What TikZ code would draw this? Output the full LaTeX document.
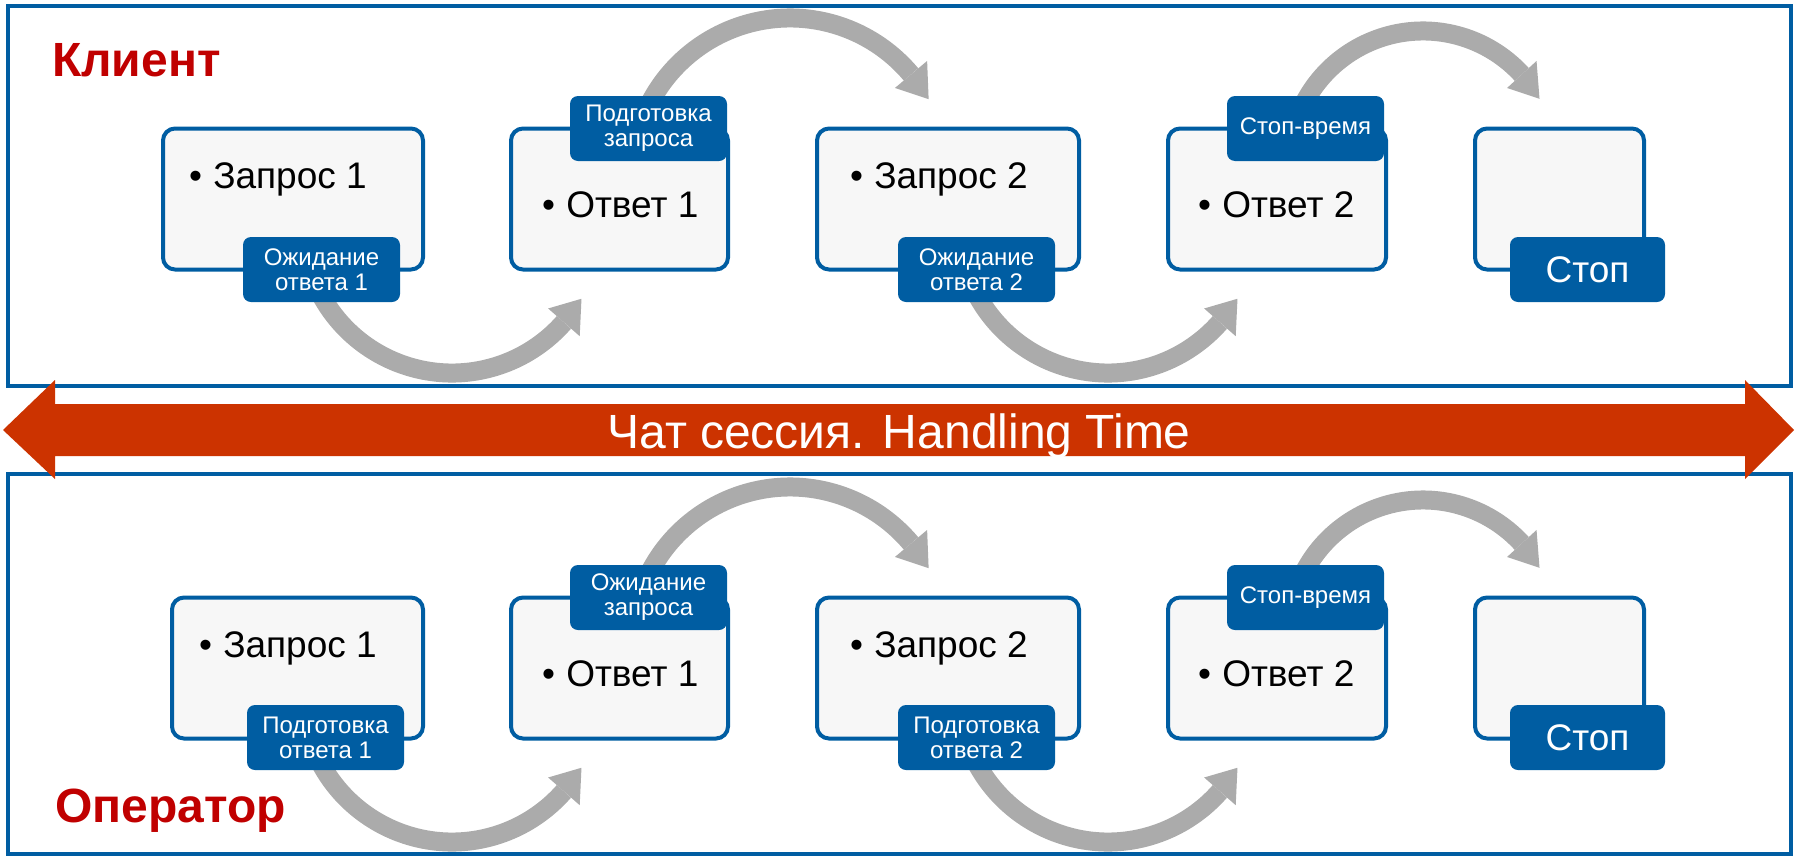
\documentclass[tikz,border=0pt]{standalone}
\usepackage{fontspec}
\setmainfont{Liberation Sans}
\usetikzlibrary{calc}
\definecolor{blu}{RGB}{0,93,162}
\definecolor{boxfill}{RGB}{247,247,247}
\definecolor{arcgray}{RGB}{171,171,171}
\definecolor{chatred}{RGB}{204,51,0}
\definecolor{titlered}{RGB}{192,0,0}
\begin{document}
\begin{tikzpicture}[x=1pt,y=-1pt,
  panel/.style={draw=blu, line width=4pt, inner sep=0pt, minimum width=1783pt, minimum height=380pt},
  stepbox/.style={draw=blu, line width=4pt, fill=boxfill, rounded corners=12pt, minimum height=141pt, inner sep=0pt},
  lbl/.style={fill=blu, rounded corners=8pt, minimum height=65pt, minimum width=157pt, inner sep=0pt, text=white, align=center, font=\fontsize{24}{25}\selectfont},
  bodytext/.style={anchor=base west, inner sep=0pt, font=\fontsize{37}{40}\selectfont},
  title/.style={anchor=base west, inner sep=0pt, text=titlered, font=\fontsize{48}{56}\selectfont\bfseries},
  flow/.style={draw=arcgray, line width=19pt},
  flowhead/.style={fill=arcgray},
]
\useasboundingbox (0,0) rectangle (1796,860);

% panels
\node[panel] (ptop) at (899.5,196) {};
\node[panel] (pbot) at (899.5,663.5) {};

% titles
\node[title] (client) at (52,76) {Клиент};
\node[title] (oper) at (55,822) {Оператор};

% ---------- top row boxes
\node[stepbox, minimum width=260pt] (ta1) at (293,199) {};
\node[stepbox, minimum width=217pt] (tb1) at (619.5,199) {};
\node[stepbox, minimum width=262pt] (ta2) at (948,199) {};
\node[stepbox, minimum width=218pt] (tb2) at (1277,199) {};
\node[stepbox, minimum width=169pt] (tc) at (1559.5,199) {};

\node[bodytext] (ta1t) at (189,188) {•\hspace{0.3em}Запрос 1};
\node[bodytext] (tb1t) at (542,217) {•\hspace{0.3em}Ответ 1};
\node[bodytext] (ta2t) at (850,188) {•\hspace{0.3em}Запрос 2};
\node[bodytext] (tb2t) at (1198,217) {•\hspace{0.3em}Ответ 2};

% ---------- bottom row boxes
\node[stepbox, minimum width=251pt] (ba1) at (297.5,668) {};
\node[stepbox, minimum width=217pt] (bb1) at (619.5,668) {};
\node[stepbox, minimum width=262pt] (ba2) at (948,668) {};
\node[stepbox, minimum width=218pt] (bb2) at (1277,668) {};
\node[stepbox, minimum width=169pt] (bc) at (1559.5,668) {};

\node[bodytext] (ba1t) at (199,657) {•\hspace{0.3em}Запрос 1};
\node[bodytext] (bb1t) at (542,686) {•\hspace{0.3em}Ответ 1};
\node[bodytext] (ba2t) at (850,657) {•\hspace{0.3em}Запрос 2};
\node[bodytext] (bb2t) at (1198,686) {•\hspace{0.3em}Ответ 2};

% ---------- gray curved arrows (centres of the arcs)
\coordinate (c1) at (452,224);
\coordinate (c2) at (790,176);
\coordinate (c3) at (1108,224);
\coordinate (c4) at (1423,165);
\coordinate (d1) at (452,693);
\coordinate (d2) at (790,645);
\coordinate (d3) at (1108,693);
\coordinate (d4) at (1423,634);

\foreach \c in {c1,c3,d1,d3}{
  \draw[flow] ($(\c)+(160:149)$) arc[start angle=160, end angle=41.3, radius=149];
  \fill[flowhead] ($(\c)+(41.3:128)$) -- ($(\c)+(30:149.5)$) -- ($(\c)+(41.3:170)$) -- cycle;
}
\foreach \c in {c2,d2}{
  \draw[flow] ($(\c)+(200:158)$) arc[start angle=200, end angle=320, radius=158];
  \fill[flowhead] ($(\c)+(320:137)$) -- ($(\c)+(331:158.5)$) -- ($(\c)+(320:179)$) -- cycle;
}
\foreach \c in {c4,d4}{
  \draw[flow] ($(\c)+(200:134)$) arc[start angle=200, end angle=317.5, radius=134];
  \fill[flowhead] ($(\c)+(317.5:114)$) -- ($(\c)+(330.4:134)$) -- ($(\c)+(317.5:154)$) -- cycle;
}

% ---------- labels top
\node[lbl] (tl1) at (321.5,269.5) {Ожидание\\ответа 1};
\node[lbl] (tl2) at (648.5,128.5) {Подготовка\\запроса};
\node[lbl] (tl3) at (976.5,269.5) {Ожидание\\ответа 2};
\node[lbl] (tl4) at (1305.5,128.5) {Стоп-время};
\node[lbl, minimum width=155pt, font=\fontsize{37}{40}\selectfont] (tl5) at (1587.5,269.5) {Стоп};

% ---------- labels bottom
\node[lbl] (bl1) at (325.5,737.5) {Подготовка\\ответа 1};
\node[lbl] (bl2) at (648.5,597.5) {Ожидание\\запроса};
\node[lbl] (bl3) at (976.5,737.5) {Подготовка\\ответа 2};
\node[lbl] (bl4) at (1305.5,597.5) {Стоп-время};
\node[lbl, minimum width=155pt, font=\fontsize{37}{40}\selectfont] (bl5) at (1587.5,737.5) {Стоп};

% ---------- red double arrow
\fill[chatred] (3,430) -- (55,380) -- (55,404) -- (1745,404) -- (1745,380) -- (1794,430)
  -- (1745,479) -- (1745,456) -- (55,456) -- (55,479) -- cycle;
\node[anchor=base, inner sep=0pt, text=white, font=\fontsize{48}{56}\selectfont] (chat) at (899,448) {Чат сессия. Handling Time};
\end{tikzpicture}
\end{document}
